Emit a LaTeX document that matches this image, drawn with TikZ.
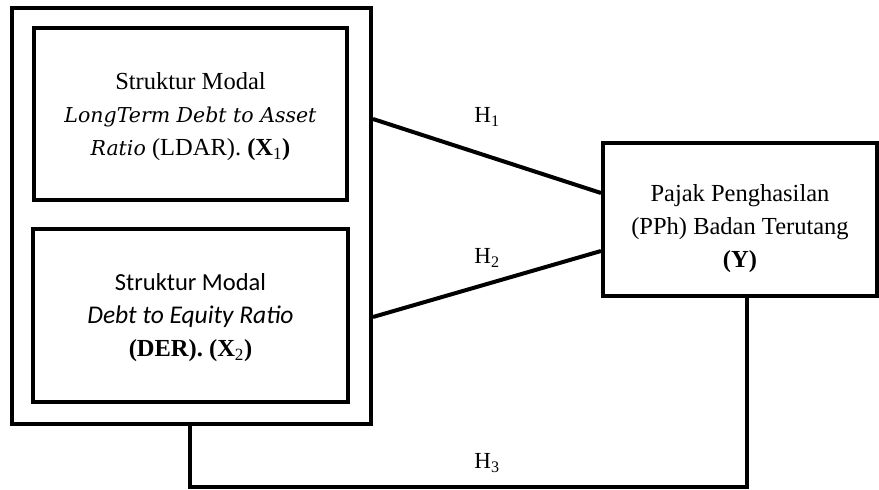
\documentclass[tikz,border=0pt]{standalone}
\usepackage{fontspec}
\setmainfont{Liberation Serif}
\newfontfamily\calfont{Carlito}
\newfontfamily\camfont{DejaVu Serif}
\begin{document}
\begin{tikzpicture}[x=1pt,y=1pt,
  box/.style={draw, line width=4pt, inner sep=0pt},
  txt/.style={align=center, inner sep=0pt, font=\fontsize{24.5}{33}\selectfont},
  link/.style={line width=4pt},
  hyp/.style={font=\fontsize{23}{26}\selectfont}]
\useasboundingbox (0,0) rectangle (879,490);
% outer frame holding both capital-structure measures
\node[box, minimum width=359, minimum height=416] (outer) at (191.5,274) {};
\node[box, minimum width=313, minimum height=172] (x1) at (190.5,376) {};
\node[txt] (x1t) at ([yshift=-3]x1.center)
  {Struktur Modal\\ {\camfont\itshape\fontsize{20.5}{33}\selectfont LongTerm Debt to Asset}\\ {\camfont\itshape\fontsize{20.5}{33}\selectfont Ratio} (LDAR). \textbf{(X}\textsubscript{1}\textbf{)}};
\node[box, minimum width=315, minimum height=173] (x2) at (190.5,174.5) {};
\node[txt] (x2t) at ([yshift=-2]x2.center)
  {{\calfont Struktur Modal}\\ {\calfont\itshape\fontsize{25.5}{33}\selectfont Debt to Equity Ratio}\\ \textbf{(DER). (X}\textsubscript{2}\textbf{)}};
\node[box, minimum width=274, minimum height=153] (y) at (740,270.5) {};
\node[txt] (yt) at ([yshift=-9]y.center)
  {Pajak Penghasilan\\ (PPh) Badan Terutang\\ \textbf{(Y)}};
% hypothesis paths
\draw[link] (outer.east |- 0,371) -- (y.west |- 0,297);
\draw[link] (outer.east |- 0,173) -- (y.west |- 0,239);
\coordinate (c1) at (190,3);
\coordinate (c2) at (747,3);
\draw[link] (outer.south -| c1) -- (c1) -- (c2) -- (y.south -| c2);
\node[hyp] (h1) at (487,373) {H\textsubscript{1}};
\node[hyp] (h2) at (487,232) {H\textsubscript{2}};
\node[hyp] (h3) at (487,27) {H\textsubscript{3}};
\end{tikzpicture}
\end{document}
